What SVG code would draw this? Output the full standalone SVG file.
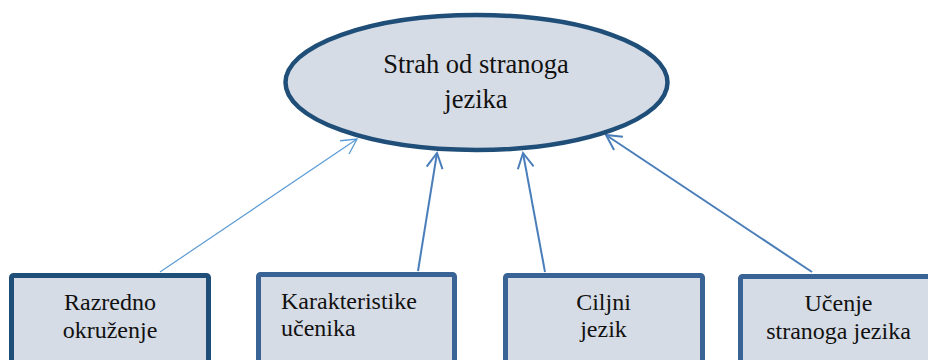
<svg xmlns="http://www.w3.org/2000/svg" width="928" height="360" viewBox="0 0 928 360">
<style>
.t{font-family:"Liberation Serif","Times New Roman",serif;fill:#111;}
.big{font-size:26.5px;text-anchor:middle;}
.sm{font-size:24px;}
.c{text-anchor:middle;}
.box{fill:#D6DCE5;stroke:#3A6395;stroke-width:5;}
.conn{fill:none;stroke:#4A7EBB;stroke-width:2;}
</style>
<defs>
<marker id="ah" markerUnits="userSpaceOnUse" viewBox="-16 -9 18 18" refX="0" refY="0" markerWidth="18" markerHeight="18" orient="auto">
<path d="M-15,-8 L0,0 L-15,8" fill="none" stroke="#4A7EBB" stroke-width="2"/>
</marker>
<marker id="ah1" markerUnits="userSpaceOnUse" viewBox="-16 -9 18 18" refX="0" refY="0" markerWidth="18" markerHeight="18" orient="auto">
<path d="M-15,-8 L0,0 L-15,8" fill="none" stroke="#5B9BD5" stroke-width="1.3"/>
</marker>
</defs>
<g id="connectors">
<line x1="160" y1="272" x2="357" y2="139" fill="none" stroke="#5B9BD5" stroke-width="1.2" marker-end="url(#ah1)"/>
<line class="conn" x1="418" y1="271" x2="437" y2="153" marker-end="url(#ah)"/>
<line class="conn" x1="545" y1="272" x2="523" y2="153" marker-end="url(#ah)"/>
<line class="conn" x1="812" y1="272" x2="606" y2="135" marker-end="url(#ah)"/>
</g>
<g id="strah">
<ellipse cx="476.5" cy="82.5" rx="191" ry="67.5" fill="#D6DCE5" stroke="#1F4E79" stroke-width="4.5"/>
<text class="t big" x="476" y="73">Strah od stranoga</text>
<text class="t big" x="476" y="108">jezika</text>
</g>
<g id="razredno">
<rect class="box" x="11.5" y="275.5" width="197" height="100" rx="2" style="stroke:#1F4E79"/>
<text class="t sm c" x="110" y="310">Razredno</text>
<text class="t sm c" x="110" y="338">okruženje</text>
</g>
<g id="karakteristike">
<rect class="box" x="258.5" y="274.5" width="196" height="100" rx="2"/>
<text class="t sm" x="281" y="309">Karakteristike</text>
<text class="t sm" x="281" y="336">učenika</text>
</g>
<g id="ciljni">
<rect class="box" x="505.5" y="275.5" width="197" height="100" rx="2"/>
<text class="t sm c" x="603.5" y="310">Ciljni</text>
<text class="t sm c" x="603.5" y="337">jezik</text>
</g>
<g id="ucenje">
<rect class="box" x="740.5" y="276.5" width="200" height="100" rx="2"/>
<text class="t sm c" x="838.5" y="311">Učenje</text>
<text class="t sm c" x="838.5" y="339">stranoga jezika</text>
</g>
</svg>
